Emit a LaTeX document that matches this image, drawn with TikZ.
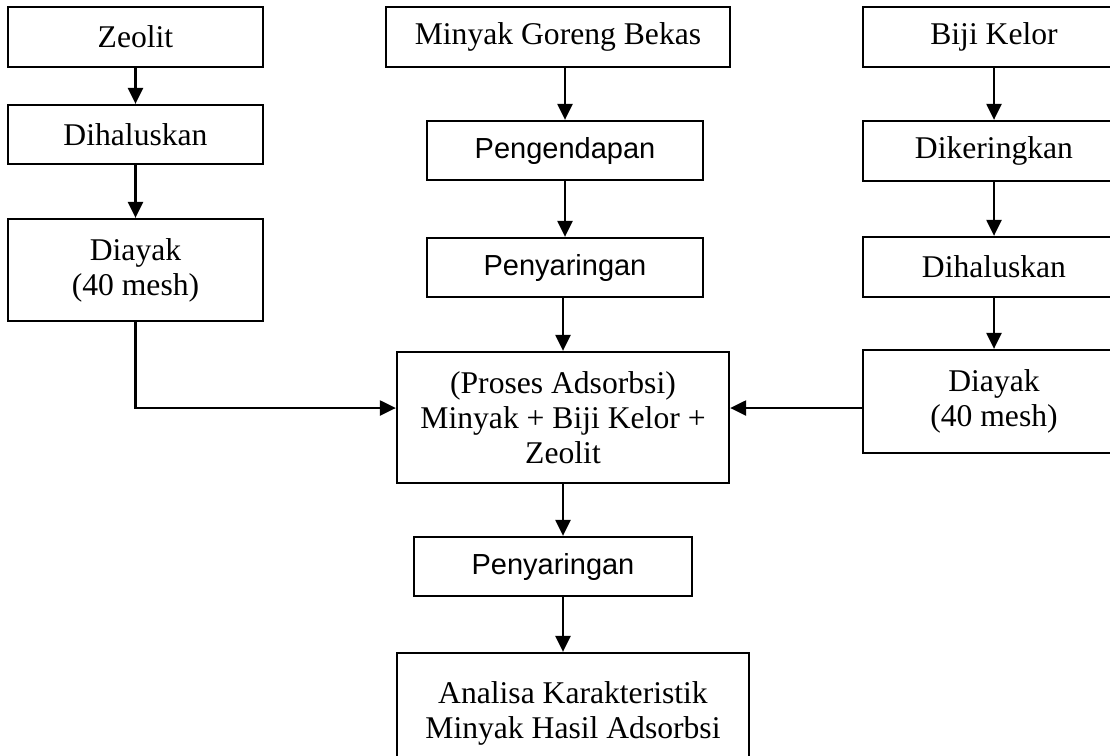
\documentclass[tikz,border=0pt]{standalone}
\usepackage{fontspec}
\setmainfont{Liberation Serif}
\newfontfamily\arialfont{Liberation Sans}
\usetikzlibrary{arrows.meta}

\begin{document}
\begin{tikzpicture}[x=0.02cm,y=-0.02cm,line width=1.3pt,
	box/.style={draw,rectangle,inner sep=0pt,align=center,
		font=\fontsize{18}{20}\selectfont},
	sbox/.style={box,font=\arialfont\fontsize{16.5}{19}\selectfont},
	flow/.style={-{Triangle[length=0.32cm,width=0.3cm]}}]
\useasboundingbox (0,0) rectangle (1110,755);
% kolom zeolit
\node[box,minimum width=255*0.02cm,minimum height=60*0.02cm] (zeolit) at (135.5,37) {Zeolit};
\node[box,minimum width=255*0.02cm,minimum height=59*0.02cm] (halusA) at (135.5,134.5) {Dihaluskan};
\node[box,minimum width=255*0.02cm,minimum height=102*0.02cm] (ayakA) at (135.5,270) {Diayak\\(40 mesh)};
% kolom minyak
\node[box,minimum width=344*0.02cm,minimum height=60*0.02cm] (minyak) at (558,37) {Minyak Goreng Bekas};
\node[sbox,minimum width=276*0.02cm,minimum height=59*0.02cm] (endap) at (565,150.5) {Pengendapan};
\node[sbox,minimum width=276*0.02cm,minimum height=59*0.02cm] (saringA) at (565,267.5) {Penyaringan};
\node[box,minimum width=332*0.02cm,minimum height=131*0.02cm] (proses) at (563,417.5)
	{(Proses Adsorbsi)\\Minyak + Biji Kelor +\\Zeolit};
\node[sbox,minimum width=278*0.02cm,minimum height=59*0.02cm] (saringB) at (553,566.5) {Penyaringan};
\node[box,minimum width=352*0.02cm,minimum height=120*0.02cm] (analisa) at (573,713)
	{Analisa Karakteristik\\Minyak Hasil Adsorbsi};
% kolom biji kelor
\node[box,minimum width=262*0.02cm,minimum height=60*0.02cm] (kelor) at (994,37) {Biji Kelor};
\node[box,minimum width=262*0.02cm,minimum height=60*0.02cm] (kering) at (994,151) {Dikeringkan};
\node[box,minimum width=262*0.02cm,minimum height=60*0.02cm] (halusB) at (994,267) {Dihaluskan};
\node[box,minimum width=262*0.02cm,minimum height=103*0.02cm] (ayakB) at (994,401.5) {Diayak\\(40 mesh)};
\coordinate (campur) at (0,408);

\draw[flow] (zeolit) -- (halusA);
\draw[flow] (halusA) -- (ayakA);
\draw[flow] (ayakA.south) |- (campur -| proses.west);
\draw[flow] (minyak.south -| endap) -- (endap.north);
\draw[flow] (endap) -- (saringA);
\draw[flow] (saringA.south -| proses) -- (proses.north);
\draw[flow] (kelor) -- (kering);
\draw[flow] (kering) -- (halusB);
\draw[flow] (halusB) -- (ayakB);
\draw[flow] (campur -| ayakB.west) -- (campur -| proses.east);
\draw[flow] (proses.south) -- (proses.south |- saringB.north);
\draw[flow] (saringB.south -| proses) -- (analisa.north -| proses);
\end{tikzpicture}
\end{document}
